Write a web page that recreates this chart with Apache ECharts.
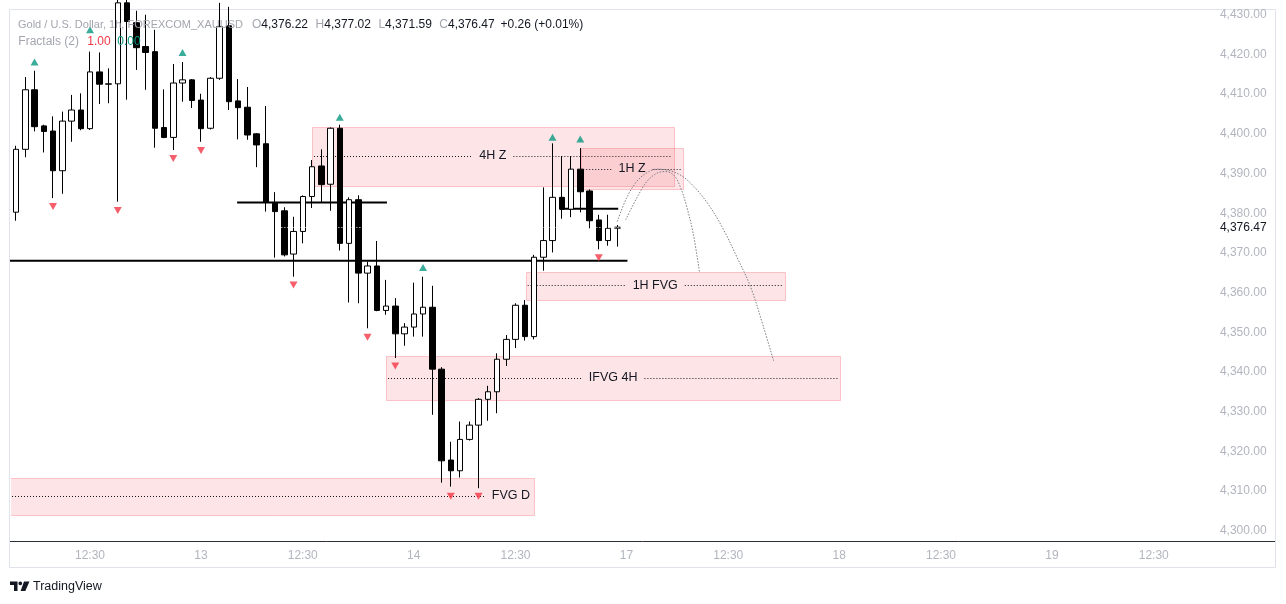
<!DOCTYPE html>
<html>
<head>
<meta charset="utf-8">
<script src="https://cdn.jsdelivr.net/npm/echarts@6/dist/echarts.min.js"></script>
<style>
html,body{margin:0;padding:0;background:#ffffff;}
#chart{width:1286px;height:604px;}
</style>
</head>
<body>
<div id="chart"></div>
<script>
// ---------- data ----------
const openP  = [4380.25,4396.1,4411.1,4402.0,4400.7,4390.7,4403.2,4406.0,4401.3,4415.6,4412.5,4412.6,4433.0,4428.0,4422.0,4420.7,4401.6,4399.1,4412.8,4413.6,4408.5,4401.4,4414.0,4427.2,4408.3,4406.7,4400.0,4397.5,4382.5,4380.6,4369.7,4375.4,4384.2,4391.9,4387.3,4401.4,4372.4,4383.4,4364.9,4366.7,4355.5,4356.6,4349.6,4351.3,4354.6,4356.3,4340.7,4317.8,4315.1,4323.0,4326.6,4333.1,4335.0,4343.2,4348.2,4356.8,4348.9,4368.9,4373.1,4384.0,4381.0,4391.1,4385.6,4378.3,4373.1,4376.22];
const closeP = [4396.1,4411.1,4401.8,4400.6,4390.7,4403.2,4406.0,4401.3,4415.6,4412.5,4412.6,4433.0,4428.3,4421.7,4420.5,4401.4,4399.1,4412.8,4413.6,4408.4,4401.3,4414.0,4427.0,4408.1,4406.6,4399.7,4397.2,4382.7,4380.4,4369.5,4375.4,4384.2,4391.7,4387.2,4401.4,4372.4,4383.4,4364.9,4366.7,4355.5,4356.6,4349.6,4351.3,4354.6,4356.3,4340.7,4317.6,4315.1,4323.0,4326.6,4333.1,4335.0,4343.2,4348.2,4356.8,4348.9,4368.9,4373.1,4384.0,4381.0,4391.1,4385.4,4378.1,4373.1,4376.2,4376.47];
const lowP   = [4378.1,4394.1,4400.6,4395.3,4383.8,4384.9,4398.0,4400.9,4401.0,4407.5,4407.7,4382.9,4408.6,4416.1,4411.1,4396.5,4398.9,4395.9,4408.1,4406.5,4398.0,4401.1,4413.6,4406.0,4398.6,4398.5,4391.6,4380.4,4368.8,4369.1,4364.0,4372.4,4381.3,4382.7,4380.6,4370.6,4357.5,4357.3,4351.0,4355.3,4354.4,4343.5,4346.6,4348.9,4348.9,4329.2,4312.1,4311.1,4313.4,4322.7,4310.7,4327.7,4329.6,4341.5,4346.0,4347.9,4348.2,4365.5,4370.1,4378.6,4379.0,4380.2,4376.2,4370.9,4371.8,4371.59];
const highP  = [4397.0,4414.3,4415.9,4402.3,4404.4,4405.6,4409.8,4410.2,4420.7,4420.5,4416.5,4436.0,4437.0,4431.0,4430.0,4426.2,4411.2,4417.6,4418.1,4413.8,4410.1,4414.3,4433.0,4432.0,4413.8,4411.8,4400.2,4407.0,4385.3,4381.5,4379.1,4384.5,4393.4,4396.1,4401.6,4402.3,4384.0,4384.5,4367.8,4373.0,4363.2,4358.6,4352.3,4362.5,4364.0,4361.7,4341.2,4322.4,4327.5,4327.5,4333.4,4336.5,4344.7,4349.3,4357.3,4358.1,4369.5,4386.5,4397.6,4394.4,4394.4,4396.4,4386.0,4379.6,4379.6,4377.02];

const slotCount = 130; // hourly slots shown on the time axis (incl. empty future space)
const tickLabels = [[8,'12:30'],[20,'13'],[31,'12:30'],[43,'14'],[54,'12:30'],[66,'17'],[77,'12:30'],[89,'18'],[100,'12:30'],[112,'19'],[123,'12:30']];

const fractalUpIdx     = [2,8,18,35,44,58,61];
const fractalUpPrice   = [4418.1,4426.2,4420.5,4404.2,4366.3,4399.15,4398.7];
const fractalDownIdx   = [4,11,17,20,30,38,41,47,50,63];
const fractalDownPrice = [4381.7,4380.7,4393.75,4395.8,4361.9,4348.75,4341.5,4308.7,4308.7,4368.8];

const zoneNames  = ['4H Z','1H Z','1H FVG','IFVG 4H','FVG D'];
const zoneStart  = [32.0,61.1,55.1,40.0,-0.65];
const zoneEnd    = [71.1,72.1,83.1,89.1,56.0];
const zoneTop    = [4401.7,4396.4,4365.3,4344.0,4313.2];
const zoneBottom = [4386.9,4386.0,4358.3,4332.9,4304.0];
const zoneMid    = [4394.4,4391.2,4361.85,4338.5,4308.75];
const zoneAlign  = ['center','center','center','center','right'];

const levelPrice = [4382.7,4368.0,4381.1];
const levelStart = [23.9,-0.65,58.8];
const levelEnd   = [40.1,66.1,65.1];

const arcOuterIdx   = [65.0,66.0,67.1,68.2,69.3,70.7,72.1,73.6,75.0,76.5,77.9,79.4,80.8,81.9];
const arcOuterPrice = [4377.9,4383.8,4388.0,4390.2,4391.1,4390.7,4389.2,4385.9,4381.7,4375.8,4369.1,4361.5,4351.4,4342.8];
const arcInnerIdx   = [65.9,67.1,68.2,69.3,70.2,71.1,71.8,72.5,73.2,73.9];
const arcInnerPrice = [4378.3,4383.8,4388.0,4390.1,4390.5,4389.6,4386.7,4381.7,4375.0,4365.0];

const lastPrice = 4376.47;
const headerTitle = 'Gold / U.S. Dollar, 1h, FOREXCOM_XAUUSD';
const headerOHLC = [['O','4,376.22'],['H','4,377.02'],['L','4,371.59'],['C','4,376.47']];
const headerChange = '+0.26 (+0.01%)';
const indicatorName = 'Fractals (2)';
const indicatorValues = ['1.00','0.00'];

// ---------- helpers ----------
const FONT = '"Liberation Sans", Arial, sans-serif';
const measureCtx = document.createElement('canvas').getContext('2d');
function textWidth(t, font){ measureCtx.font = font; return measureCtx.measureText(t).width; }
function fmtPrice(v){ return v.toLocaleString('en-US',{minimumFractionDigits:2,maximumFractionDigits:2}); }

const categories = Array.from({length: slotCount}, (_, i) => String(i));
const labelMap = {};
tickLabels.forEach(([i, t]) => { labelMap[i] = t; });
const candleData = openP.map((o, i) => [o, closeP[i], lowP[i], highP[i]]);
const zoneData = zoneNames.map((n, i) => [zoneStart[i], zoneEnd[i], zoneTop[i], zoneBottom[i], zoneMid[i]]);

const ZONE_FONT = '12.5px ' + FONT;

function renderZone(params, api){
  const i = params.dataIndex;
  const a = api.coord([api.value(0), api.value(2)]);
  const b = api.coord([api.value(1), api.value(3)]);
  const m = api.coord([api.value(0), api.value(4)]);
  const name = zoneNames[i];
  const tw = textWidth(name, ZONE_FONT);
  const x0 = a[0], x1 = b[0];
  const y = Math.round(m[1]) + 0.5;
  let tx;
  if (zoneAlign[i] === 'right') tx = x1 - 4 - tw / 2; else tx = (x0 + x1) / 2;
  const gap = 7;
  const children = [
    { type:'rect', shape:{ x:Math.round(x0)+0.5, y:Math.round(a[1])+0.5, width:Math.round(x1-x0), height:Math.round(b[1]-a[1]) },
      style:{ fill:'rgba(242,54,69,0.13)', stroke:'rgba(242,54,69,0.26)', lineWidth:1 } }
  ];
  const l1 = x0 + 2, l2 = tx - tw / 2 - gap;
  if (l2 > l1) children.push({ type:'line', shape:{x1:l1, y1:y, x2:l2, y2:y}, style:{ stroke:'#131722', lineWidth:1, lineDash:[1,2] } });
  const r1 = tx + tw / 2 + gap, r2 = x1 - 2;
  if (r2 > r1) children.push({ type:'line', shape:{x1:r1, y1:y, x2:r2, y2:y}, style:{ stroke:'#131722', lineWidth:1, lineDash:[1,2] } });
  children.push({ type:'text', x:tx, y:m[1], style:{ text:name, fill:'#131722', font:ZONE_FONT, align:'center', verticalAlign:'middle' } });
  return { type:'group', children };
}

const levelSeries = levelPrice.map((p, i) => ({
  type:'line', xAxisIndex:1, yAxisIndex:0, z:3, silent:true, symbol:'none', animation:false,
  data:[[levelStart[i], p],[levelEnd[i], p]],
  lineStyle:{ color:'#000000', width:2 }
}));

function arcSeries(xs, ys){
  return { type:'line', xAxisIndex:1, yAxisIndex:0, z:4, silent:true, symbol:'none', animation:false, smooth:0.35,
    data: xs.map((x, i) => [x, ys[i]]),
    lineStyle:{ color:'#7b7e86', width:1, type:[1.5,1.5] } };
}

// ---------- graphic decorations (legend, frame, logo) ----------
const HF = '12px ' + FONT;
const GRAY = '#a3a6af';
const titleW = textWidth(headerTitle, HF);
const titleSize = Math.min(12, 12 * 225 / titleW);
const graphics = [
  { type:'rect', z:0, silent:true, shape:{x:9.5, y:9.5, width:1266, height:558}, style:{ fill:'none', stroke:'#e0e3eb', lineWidth:1 } },
  { type:'line', z:50, silent:true, shape:{x1:10, y1:541.5, x2:1275, y2:541.5}, style:{ stroke:'#2a2e39', lineWidth:1 } },
  { type:'text', z:100, x:18, y:24.5, style:{ text:headerTitle, fill:GRAY, font:titleSize.toFixed(2) + 'px ' + FONT, verticalAlign:'middle' } }
];
let hx = 252;
headerOHLC.forEach(([k, v]) => {
  graphics.push({ type:'text', z:100, x:hx, y:24.5, style:{ text:k, fill:GRAY, font:HF, verticalAlign:'middle' } });
  hx += textWidth(k, HF);
  graphics.push({ type:'text', z:100, x:hx, y:24.5, style:{ text:v, fill:'#131722', font:HF, verticalAlign:'middle' } });
  hx += textWidth(v, HF) + 7.5;
});
graphics.push({ type:'text', z:100, x:500.5, y:24.5, style:{ text:headerChange, fill:'#131722', font:HF, verticalAlign:'middle' } });
graphics.push({ type:'text', z:100, x:18.3, y:42, style:{ text:indicatorName, fill:GRAY, font:HF, verticalAlign:'middle' } });
graphics.push({ type:'text', z:100, x:87.3, y:42, style:{ text:indicatorValues[0], fill:'#f23645', font:HF, verticalAlign:'middle' } });
graphics.push({ type:'text', z:100, x:117.3, y:42, style:{ text:indicatorValues[1], fill:'#089981', font:HF, verticalAlign:'middle' } });
// TradingView logo + wordmark
graphics.push({ type:'group', z:100, silent:true, children:[
  { type:'polygon', shape:{ points:[[10,581.5],[17.5,581.5],[17.5,591],[14,591],[14,585],[10,585]] }, style:{ fill:'#131722' } },
  { type:'circle', shape:{ cx:20.3, cy:583.3, r:1.9 }, style:{ fill:'#131722' } },
  { type:'polygon', shape:{ points:[[24,581.5],[29.5,581.5],[25.3,591],[20.6,591]] }, style:{ fill:'#131722' } }
]});
graphics.push({ type:'text', z:100, x:33, y:586.5, style:{ text:'TradingView', fill:'#131722', font:'12.5px ' + FONT, verticalAlign:'middle' } });

// ---------- chart ----------
const chart = echarts.init(document.getElementById('chart'), null, { renderer:'canvas' });
chart.setOption({
  animation:false,
  backgroundColor:'#ffffff',
  grid:{ left:11.4, right:72.1, top:10, bottom:63, containLabel:false },
  xAxis:[
    { type:'category', data:categories, boundaryGap:true,
      axisLine:{show:false}, axisTick:{show:false}, splitLine:{show:false},
      axisLabel:{ interval:(idx) => labelMap[idx] !== undefined, formatter:(v, idx) => labelMap[idx] || '',
        color:'#b2b5be', fontSize:12, fontFamily:FONT, margin:9 } },
    { type:'value', min:-0.5, max:slotCount - 0.5, show:false }
  ],
  yAxis:[
    { type:'value', position:'right', min:4297.4, max:4431.2, minInterval:10, maxInterval:10, scale:true,
      axisLine:{show:false}, axisTick:{show:false}, splitLine:{show:false},
      axisLabel:{ showMinLabel:false, showMaxLabel:false, color:'#b2b5be', fontSize:12, fontFamily:FONT, margin:6,
        formatter:(v) => (Math.abs(v/10 - Math.round(v/10)) > 1e-6 ? '' : fmtPrice(v)) } }
  ],
  graphic: graphics,
  series:[
    { type:'custom', name:'zones', xAxisIndex:1, yAxisIndex:0, z:1, silent:true, clip:true,
      renderItem:renderZone, data:zoneData, encode:{ x:[0,1], y:[2,3,4] } },
    ...levelSeries,
    arcSeries(arcOuterIdx, arcOuterPrice),
    arcSeries(arcInnerIdx, arcInnerPrice),
    { type:'candlestick', name:'XAUUSD', xAxisIndex:0, yAxisIndex:0, z:5, clip:true, barWidth:6,
      data:candleData,
      itemStyle:{ color:'#ffffff', color0:'#000000', borderColor:'#000000', borderColor0:'#000000', borderWidth:1 },
      markLine:{ silent:true, symbol:'none', animation:false, z:6,
        data:[{ yAxis:lastPrice }],
        lineStyle:{ color:'#ffffff', width:1, type:[1,2] },
        label:{ show:true, position:'end', distance:6, formatter:() => fmtPrice(lastPrice), color:'#131722', fontSize:12, fontFamily:FONT } } },
    { type:'scatter', name:'fractal up', xAxisIndex:0, yAxisIndex:0, z:7, silent:true, symbol:'triangle', symbolSize:[8,7],
      data:fractalUpIdx.map((x, i) => [x, fractalUpPrice[i]]), itemStyle:{ color:'#089981' } },
    { type:'scatter', name:'fractal down', xAxisIndex:0, yAxisIndex:0, z:7, silent:true, symbol:'triangle', symbolRotate:180, symbolSize:[8,7],
      data:fractalDownIdx.map((x, i) => [x, fractalDownPrice[i]]), itemStyle:{ color:'#f23645' } }
  ]
});
</script>
</body>
</html>
